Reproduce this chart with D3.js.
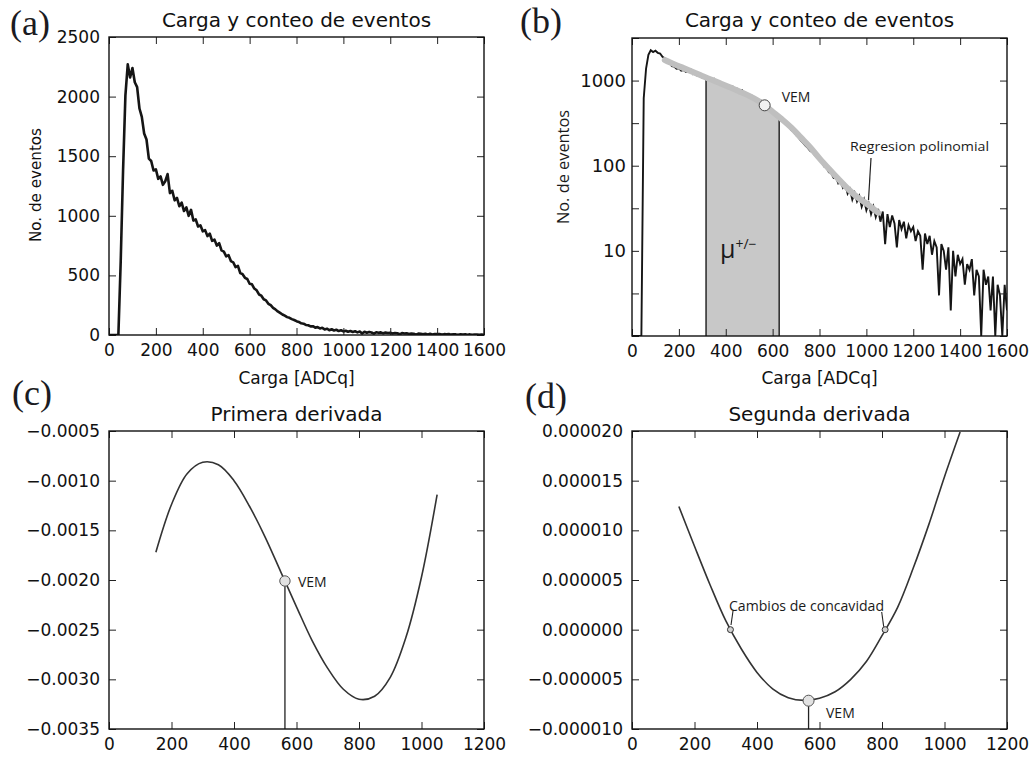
<!DOCTYPE html>
<html>
<head>
<meta charset="utf-8">
<!-- load the d3.js library -->
<script src="https://cdn.jsdelivr.net/npm/d3@7"></script>
<style>
body { margin: 0; background: #fff; }
text { font-family: "DejaVu Sans", sans-serif; fill: #111; }
.note { font-family: "Open Sans", sans-serif; fill: #1a1a1a; }
.panel { font-family: "Liberation Serif", serif; fill: #1b1b22; font-size: 36px; }
</style>
</head>
<body>
<div id="svgcontainer"></div>
<script>
  // histogram: events per 10 ADCq bin, 0..1600
  var charge = d3.range(0, 1610, 10);
  var counts = [0, 0, 0, 0, 0,
    620, 1380, 2010, 2270, 2160,
    2240, 2120, 2080, 1900, 1830,
    1690, 1640, 1480, 1460, 1380,
    1390, 1310, 1330, 1260, 1290,
    1350, 1190, 1210, 1130, 1150,
    1080, 1110, 1040, 1070, 1000,
    1050, 960, 970, 910, 920,
    870, 880, 830, 850, 790,
    800, 750, 770, 710, 700,
    660, 670, 620, 610, 570,
    580, 520, 510, 480, 470,
    430, 425, 390, 375, 340,
    330, 300, 290, 262, 250,
    228, 215, 198, 185, 172,
    162, 150, 144, 133, 126,
    116, 110, 98, 95, 84,
    82, 72, 74, 62, 66,
    55, 60, 47, 53, 40,
    48, 38, 44, 33, 40,
    30, 36, 27, 33, 25,
    31, 22, 29, 12, 27,
    19, 26, 21, 11, 23,
    18, 22, 14, 20, 17,
    19, 13, 17, 15, 6,
    16, 12, 15, 9, 13,
    11, 3, 12, 10, 6,
    11, 2, 10, 5, 9,
    7, 8, 4, 7, 6,
    8, 3, 6, 5, 1,
    6, 4, 5, 2, 5,
    1, 4, 3, 1, 4,
    2];

  // polynomial regression drawn in (b)
  var regCharge = [140, 180, 220, 260, 300, 340, 380, 420, 460, 500, 540, 566, 600, 640, 680, 720, 760, 800, 840, 880, 920, 960, 1000, 1050];
  var regCounts = [1740, 1550, 1400, 1260, 1130, 1020, 920, 830, 740, 660, 575, 512, 430, 350, 280, 215, 165, 122, 92, 70, 54, 43, 36, 28];

  // muon band limits and heights
  var muonCharge = [316, 628];
  var muonTop = [1040, 360];

  // first and second derivative
  var derivCharge = [150, 200, 250, 300, 350, 400, 450, 500, 550, 600, 650, 700, 750, 800, 850, 900, 950, 1000, 1050];
  var deriv1 = [-0.00172, -0.00124, -0.00093, -0.000815, -0.00084, -0.001, -0.00126, -0.00157, -0.00192, -0.00227,
                -0.00261, -0.00289, -0.0031, -0.0032, -0.00317, -0.00298, -0.00258, -0.00197, -0.00114];
  var deriv2 = [1.24e-5, 8.4e-6, 4.5e-6, 0.9e-6, -1.95e-6, -4.3e-6, -5.95e-6, -6.85e-6, -7.12e-6, -6.9e-6,
                -6.25e-6, -5.0e-6, -3.2e-6, -0.6e-6, 2.25e-6, 6.2e-6, 1.06e-5, 1.54e-5, 1.99e-5];

  var vemB = [566, 512];
  var vemC = [563, -0.00201];
  var vemD = [565, -7.15e-6];
  var concavity = [315, 810];

  var ticksHist = [0, 200, 400, 600, 800, 1000, 1200, 1400, 1600];
  var ticksDeriv = [0, 200, 400, 600, 800, 1000, 1200];
  var ticksA = [0, 500, 1000, 1500, 2000, 2500];
  var ticksB = [1, Math.sqrt(10), 10, Math.sqrt(1000), 100, Math.sqrt(100000), 1000, Math.sqrt(10000000)];
  var ticksC = [-0.0035, -0.003, -0.0025, -0.002, -0.0015, -0.001, -0.0005];
  var ticksD = [-0.00001, -0.000005, 0, 0.000005, 0.00001, 0.000015, 0.00002];

  var width = 1032, height = 757;
  var w = 375, h = 298;
  var svg = d3.select("#svgcontainer")
              .append("svg")
              .attr("width", width)
              .attr("height", height);

  function axes(g, x, y, xTicks, yTicks, yFmt) {
    g.append("g")
     .attr("transform", "translate(0," + h + ")")
     .call(d3.axisBottom(x).tickValues(xTicks).tickSizeInner(-7).tickSizeOuter(0).tickPadding(9).tickFormat(d3.format("d")));
    g.append("g")
     .call(d3.axisTop(x).tickValues(xTicks).tickSizeInner(-7).tickSizeOuter(0).tickFormat(""));
    g.append("g")
     .attr("class", "yaxis")
     .call(d3.axisLeft(y).tickValues(yTicks).tickSizeInner(-7).tickSizeOuter(0).tickPadding(9).tickFormat(yFmt));
    g.append("g")
     .attr("transform", "translate(" + w + ",0)")
     .call(d3.axisRight(y).tickValues(yTicks).tickSizeInner(-7).tickSizeOuter(0).tickFormat(""));
    g.selectAll(".domain").remove();
    g.selectAll(".tick line").attr("stroke", "#222");
    g.selectAll(".tick text")
     .style("font-family", "DejaVu Sans")
     .style("font-size", "17px")
     .attr("fill", "#111");
    g.append("rect")
     .attr("width", w)
     .attr("height", h)
     .attr("fill", "none")
     .attr("stroke", "#111")
     .attr("stroke-width", 1.4);
  }

  function title(cx, y, txt) {
    svg.append("text")
       .attr("x", cx).attr("y", y)
       .attr("text-anchor", "middle")
       .style("font-size", "20px")
       .text(txt);
  }

  function clip(id, g) {
    g.append("clipPath").attr("id", id)
     .append("rect").attr("width", w).attr("height", h);
  }

  // (a) linear histogram
  var gA = svg.append("g").attr("transform", "translate(109,37)");
  var xA = d3.scaleLinear().domain([0, 1600]).range([0, w]);
  var yA = d3.scaleLinear().domain([0, 2500]).range([h, 0]);
  clip("clipA", gA);
  gA.append("path")
    .datum(counts)
    .attr("clip-path", "url(#clipA)")
    .attr("fill", "none")
    .attr("stroke", "#151515")
    .attr("stroke-width", 2.6)
    .attr("stroke-linejoin", "round")
    .attr("d", d3.line().x(function(d, i) { return xA(charge[i]); }).y(function(d) { return yA(d); }));
  axes(gA, xA, yA, ticksHist, ticksA, d3.format("d"));

  // (b) log histogram
  var gB = svg.append("g").attr("transform", "translate(632,38)");
  var xB = d3.scaleLinear().domain([0, 1600]).range([0, w]);
  var yB = d3.scaleLog().domain([1, Math.sqrt(10000000)]).range([h, 0]);
  clip("clipB", gB);
  gB.append("clipPath").attr("id", "muon")
    .append("rect")
    .attr("x", xB(muonCharge[0])).attr("width", xB(muonCharge[1]) - xB(muonCharge[0]))
    .attr("height", h);
  var regPoints = regCharge.map(function(c, i) { return [c, regCounts[i]]; });
  gB.append("path")
    .datum(regPoints)
    .attr("clip-path", "url(#muon)")
    .attr("fill", "#c8c8c8")
    .attr("d", d3.area().curve(d3.curveCatmullRom)
                 .x(function(d) { return xB(d[0]); })
                 .y0(h)
                 .y1(function(d) { return yB(d[1]); }));
  muonCharge.forEach(function(c, i) {
    gB.append("line")
      .attr("x1", xB(c)).attr("x2", xB(c))
      .attr("y1", h).attr("y2", yB(muonTop[i]))
      .attr("stroke", "#333")
      .attr("stroke-width", 1.6);
  });
  gB.append("path")
    .datum(counts)
    .attr("clip-path", "url(#clipB)")
    .attr("fill", "none")
    .attr("stroke", "#151515")
    .attr("stroke-width", 1.9)
    .attr("d", d3.line().x(function(d, i) { return xB(charge[i]); }).y(function(d) { return yB(Math.max(d, 1)); }));
  gB.append("path")
    .datum(regPoints)
    .attr("fill", "none")
    .attr("stroke", "#bfbfbf")
    .attr("stroke-width", 6)
    .attr("stroke-linecap", "round")
    .attr("d", d3.line().curve(d3.curveCatmullRom).x(function(d) { return xB(d[0]); }).y(function(d) { return yB(d[1]); }));
  gB.append("circle")
    .attr("cx", xB(vemB[0])).attr("cy", yB(vemB[1])).attr("r", 5.5)
    .attr("fill", "#f2f2f2").attr("stroke", "#444").attr("stroke-width", 1);
  axes(gB, xB, yB, ticksHist, ticksB, function(d) {
    return [10, 100, 1000].indexOf(Math.round(d)) >= 0 && Math.abs(d - Math.round(d)) < 1e-6 ? String(Math.round(d)) : "";
  });
  gB.selectAll(".yaxis .tick text").style("font-size", "18px").attr("x", -6);

  gB.append("text").attr("class", "note")
    .attr("x", xB(vemB[0]) + 17).attr("y", yB(vemB[1]) - 3)
    .style("font-size", "14px").text("VEM");
  gB.append("text").attr("class", "note")
    .attr("x", 218).attr("y", 113)
    .attr("textLength", 139).attr("lengthAdjust", "spacingAndGlyphs")
    .style("font-size", "13px").text("Regresion polinomial");
  gB.append("line")
    .attr("x1", 239).attr("y1", 120).attr("x2", 236.5).attr("y2", 162)
    .attr("stroke", "#222").attr("stroke-width", 1.2);
  var mu = gB.append("text").attr("class", "note")
             .attr("x", 88).attr("y", 220)
             .style("font-size", "25px");
  mu.append("tspan").text("μ");
  mu.append("tspan").attr("dy", -9).style("font-size", "14px").text("+/−");

  // (c) first derivative
  var gC = svg.append("g").attr("transform", "translate(109,431)");
  var xC = d3.scaleLinear().domain([0, 1200]).range([0, w]);
  var yC = d3.scaleLinear().domain([-0.0035, -0.0005]).range([h, 0]);
  gC.append("path")
    .datum(deriv1)
    .attr("fill", "none")
    .attr("stroke", "#333")
    .attr("stroke-width", 1.6)
    .attr("d", d3.line().curve(d3.curveCatmullRom).x(function(d, i) { return xC(derivCharge[i]); }).y(function(d) { return yC(d); }));
  gC.append("line")
    .attr("x1", xC(vemC[0])).attr("x2", xC(vemC[0]))
    .attr("y1", yC(vemC[1])).attr("y2", h)
    .attr("stroke", "#222").attr("stroke-width", 1.3);
  gC.append("circle")
    .attr("cx", xC(vemC[0])).attr("cy", yC(vemC[1])).attr("r", 5.2)
    .attr("fill", "#e2e2e2").attr("stroke", "#555").attr("stroke-width", 1);
  gC.append("text").attr("class", "note")
    .attr("x", xC(vemC[0]) + 13).attr("y", yC(vemC[1]) + 6)
    .style("font-size", "14px").text("VEM");
  axes(gC, xC, yC, ticksDeriv, ticksC, d3.format(".4f"));

  // (d) second derivative
  var gD = svg.append("g").attr("transform", "translate(632,431)");
  var xD = d3.scaleLinear().domain([0, 1200]).range([0, w]);
  var yD = d3.scaleLinear().domain([-0.00001, 0.00002]).range([h, 0]);
  gD.append("path")
    .datum(deriv2)
    .attr("fill", "none")
    .attr("stroke", "#333")
    .attr("stroke-width", 1.6)
    .attr("d", d3.line().curve(d3.curveCatmullRom).x(function(d, i) { return xD(derivCharge[i]); }).y(function(d) { return yD(d); }));
  gD.append("line")
    .attr("x1", xD(vemD[0])).attr("x2", xD(vemD[0]))
    .attr("y1", yD(vemD[1])).attr("y2", h)
    .attr("stroke", "#222").attr("stroke-width", 1.3);
  gD.append("circle")
    .attr("cx", xD(vemD[0])).attr("cy", yD(vemD[1])).attr("r", 5.5)
    .attr("fill", "#e2e2e2").attr("stroke", "#555").attr("stroke-width", 1);
  concavity.forEach(function(c) {
    gD.append("circle")
      .attr("cx", xD(c)).attr("cy", yD(0)).attr("r", 3)
      .attr("fill", "#d0d0d0").attr("stroke", "#333").attr("stroke-width", 1);
  });
  gD.append("line")
    .attr("x1", 101).attr("y1", 180).attr("x2", 99).attr("y2", 194)
    .attr("stroke", "#222").attr("stroke-width", 1.1);
  gD.append("line")
    .attr("x1", 249.7).attr("y1", 181).attr("x2", 251.7).attr("y2", 195.7)
    .attr("stroke", "#222").attr("stroke-width", 1.1);
  gD.append("text").attr("class", "note")
    .attr("x", 97).attr("y", 179.7)
    .attr("textLength", 155).attr("lengthAdjust", "spacingAndGlyphs")
    .style("font-size", "14px").text("Cambios de concavidad");
  gD.append("text").attr("class", "note")
    .attr("x", 194).attr("y", 287)
    .style("font-size", "14px").text("VEM");
  axes(gD, xD, yD, ticksDeriv, ticksD, d3.format(".6f"));

  // titles and axis labels
  title(296.5, 27, "Carga y conteo de eventos");
  title(819.5, 27, "Carga y conteo de eventos");
  title(296.5, 421, "Primera derivada");
  title(819.5, 421, "Segunda derivada");

  svg.append("text").attr("x", 296.5).attr("y", 384).attr("text-anchor", "middle")
     .style("font-size", "17px").text("Carga [ADCq]");
  svg.append("text").attr("x", 819.5).attr("y", 384).attr("text-anchor", "middle")
     .style("font-size", "17px").text("Carga [ADCq]");
  svg.append("text")
     .attr("transform", "translate(41,185) rotate(-90)")
     .attr("text-anchor", "middle")
     .attr("textLength", 114).attr("lengthAdjust", "spacingAndGlyphs")
     .style("font-size", "16px").text("No. de eventos");
  svg.append("text").attr("class", "note")
     .attr("transform", "translate(569,167) rotate(-90)")
     .attr("text-anchor", "middle")
     .attr("textLength", 114).attr("lengthAdjust", "spacingAndGlyphs")
     .style("font-size", "16px").text("No. de eventos");

  // panel letters
  svg.append("text").attr("class", "panel").attr("x", 10).attr("y", 35).text("(a)");
  svg.append("text").attr("class", "panel").attr("x", 520).attr("y", 33).text("(b)");
  svg.append("text").attr("class", "panel").attr("x", 12).attr("y", 405).text("(c)");
  svg.append("text").attr("class", "panel").attr("x", 525).attr("y", 408).text("(d)");
</script>
</body>
</html>
